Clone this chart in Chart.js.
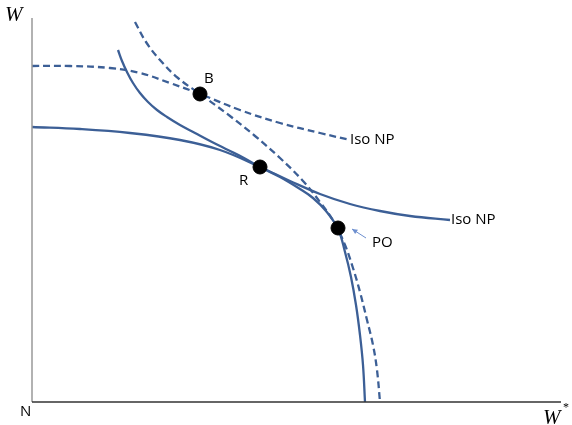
<!DOCTYPE html>
<html>
<head>
<meta charset="utf-8">
<script src="https://cdn.jsdelivr.net/npm/chart.js@4"></script>
<style>
  html, body { margin: 0; padding: 0; background: #fff; }
  #wrap { width: 572px; height: 425px; }
</style>
</head>
<body>
<div id="wrap"><canvas id="chart"></canvas></div>
<script>
// data in axis units: x to the right of N, y up from N
const isoSolidX   = [0, 48, 98, 148, 188, 228, 258, 288, 318, 348, 378, 418];
const isoSolidY   = [275, 273, 269, 262, 252, 235, 221, 208, 198, 191, 186, 182];
const frontSolidX = [86, 90, 95, 101, 108, 116, 125, 135, 148, 163, 180, 196, 212, 228, 248, 268, 281, 294, 306, 313, 319, 324, 328, 331, 333];
const frontSolidY = [352, 341, 330, 319, 309, 300, 292, 285, 277, 269, 260, 252, 244, 235, 225, 213, 204, 191, 173, 150, 125, 97, 67, 37, 0];
const isoDashX    = [0, 38, 78, 108, 138, 168, 208, 248, 288, 318];
const isoDashY    = [336, 336, 334, 329, 319, 308, 292, 279, 269, 262];
const frontDashX  = [103, 114, 128, 146, 168, 198, 223, 248, 271, 288, 302, 313, 321, 328, 335, 341, 345, 348];
const frontDashY  = [380, 360, 342, 324, 308, 286, 266, 244, 221, 200, 180, 157, 134, 110, 82, 57, 32, 0];
const pointNames  = ['B', 'R', 'PO'];
const pointX      = [168, 228, 306];
const pointY      = [308, 235, 174];

const toXY = (xs, ys) => xs.map((x, i) => ({ x: x, y: ys[i] }));
const blue = '#3c5f96';

// axes, labels and the small arrow
const extras = {
    id: 'extras',
    afterDraw(chart) {
        const { ctx, chartArea: a, scales: { x, y } } = chart;
        ctx.save();
        ctx.lineWidth = 1.5;
        ctx.strokeStyle = '#999';
        ctx.beginPath(); ctx.moveTo(a.left, a.top); ctx.lineTo(a.left, a.bottom); ctx.stroke();
        ctx.strokeStyle = '#333';
        ctx.beginPath(); ctx.moveTo(a.left, a.bottom); ctx.lineTo(a.right, a.bottom); ctx.stroke();

        ctx.fillStyle = '#000';
        ctx.font = '15px "Open Sans", sans-serif';
        ctx.textBaseline = 'middle';
        ctx.textAlign = 'left';
        ctx.fillText(pointNames[0], x.getPixelForValue(172), y.getPixelForValue(323));
        ctx.fillText(pointNames[1], x.getPixelForValue(207), y.getPixelForValue(221));
        ctx.fillText(pointNames[2], x.getPixelForValue(340), y.getPixelForValue(159));
        ctx.fillText('Iso NP', x.getPixelForValue(318), y.getPixelForValue(262));
        ctx.fillText('Iso NP', x.getPixelForValue(419), y.getPixelForValue(182));
        ctx.fillText('N', 20, 412);

        ctx.font = 'italic 21px "Liberation Serif", serif';
        ctx.fillText('W', 5, 15);
        ctx.fillText('W', 543, 418);
        ctx.font = '12px "Liberation Serif", serif';
        ctx.fillText('*', 563, 408);

        // arrow pointing to the dashed frontier
        const x1 = x.getPixelForValue(334), y1 = y.getPixelForValue(164);
        const x2 = x.getPixelForValue(320), y2 = y.getPixelForValue(173);
        ctx.strokeStyle = '#6d8fcf';
        ctx.fillStyle = '#6d8fcf';
        ctx.lineWidth = 1;
        ctx.beginPath(); ctx.moveTo(x1, y1); ctx.lineTo(x2, y2); ctx.stroke();
        const ang = Math.atan2(y2 - y1, x2 - x1);
        ctx.beginPath();
        ctx.moveTo(x2, y2);
        ctx.lineTo(x2 - 6 * Math.cos(ang - 0.45), y2 - 6 * Math.sin(ang - 0.45));
        ctx.lineTo(x2 - 6 * Math.cos(ang + 0.45), y2 - 6 * Math.sin(ang + 0.45));
        ctx.closePath(); ctx.fill();
        ctx.restore();
    }
};

const lineSet = (data, dashed) => ({
    data: data,
    showLine: true,
    borderColor: blue,
    borderWidth: 2.3,
    borderDash: dashed ? [7, 4] : [],
    pointRadius: 0,
    tension: 0.4,
    fill: false
});

new Chart(document.getElementById('chart'), {
    type: 'scatter',
    data: {
        datasets: [
            {
                data: toXY(pointX, pointY),
                pointRadius: 7,
                pointBackgroundColor: '#000',
                pointBorderColor: '#000',
                showLine: false
            },
            lineSet(toXY(isoSolidX, isoSolidY), false),
            lineSet(toXY(frontSolidX, frontSolidY), false),
            lineSet(toXY(isoDashX, isoDashY), true),
            lineSet(toXY(frontDashX, frontDashY), true)
        ]
    },
    options: {
        responsive: true,
        maintainAspectRatio: false,
        animation: false,
        layout: { padding: { left: 32, top: 18, right: 11, bottom: 23 } },
        plugins: { legend: { display: false }, tooltip: { enabled: false } },
        scales: {
            x: { min: 0, max: 529, display: false },
            y: { min: 0, max: 384, display: false }
        }
    },
    plugins: [extras]
});
</script>
</body>
</html>
